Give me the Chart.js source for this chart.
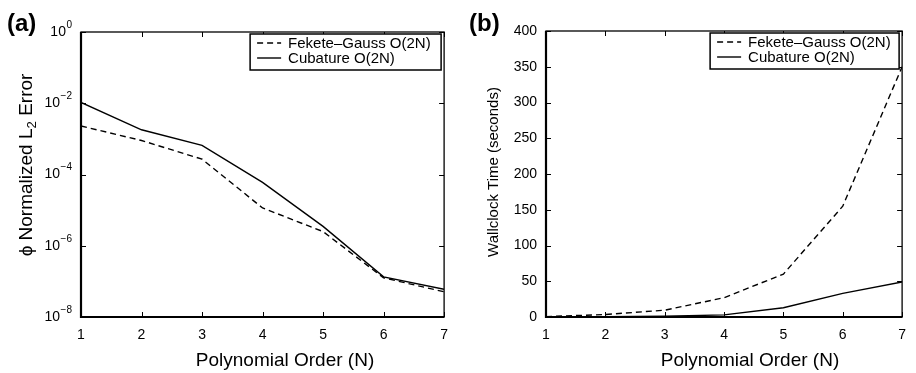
<!DOCTYPE html>
<html>
<head>
<meta charset="utf-8">
<script src="https://cdn.jsdelivr.net/npm/chart.js@4.4.0/dist/chart.umd.min.js"></script>
<style>
  body { margin: 0; background: #fff; }
  canvas { position: absolute; top: 0; }
  #errChart { left: 0; }
  #timeChart { left: 458px; }
</style>
</head>
<body>
<canvas id="errChart" width="458" height="373"></canvas>
<canvas id="timeChart" width="458" height="373"></canvas>
<script>
const FONT = '"Liberation Sans", Arial, Helvetica, sans-serif';

// polynomial order N
const orders = [1, 2, 3, 4, 5, 6, 7];

// (a) normalized L2 error
const feketeError = [2.3e-3, 9e-4, 2.7e-4, 1.15e-5, 2.5e-6, 1.26e-7, 5.1e-8];
const cubatureError = [1.05e-2, 1.8e-3, 6.6e-4, 6e-5, 3.5e-6, 1.34e-7, 6e-8];
const errorExponents = [0, -2, -4, -6, -8];

// (b) wallclock time in seconds
const feketeTime = [0.5, 3.5, 9.5, 27, 60, 155, 350];
const cubatureTime = [0.1, 0.3, 1, 3, 13, 33, 49];
const timeTicks = [0, 50, 100, 150, 200, 250, 300, 350, 400];

const seriesNames = ['Fekete\u2013Gauss O(2N)', 'Cubature O(2N)'];

function toPoints(values) {
  return orders.map((n, i) => ({ x: n, y: values[i] }));
}

function makeDatasets(fekete, cubature) {
  return [
    { label: seriesNames[0], data: toPoints(fekete), borderColor: '#000', borderWidth: 1.4, borderDash: [6, 4], pointRadius: 0, fill: false, tension: 0 },
    { label: seriesNames[1], data: toPoints(cubature), borderColor: '#000', borderWidth: 1.4, pointRadius: 0, fill: false, tension: 0 }
  ];
}

// frame, inward ticks, legend box and titles
function decor(cfg) {
  return {
    id: 'decor',
    afterDraw(chart) {
      const ctx = chart.ctx;
      const a = chart.chartArea;
      const xs = chart.scales.x;
      const ys = chart.scales.y;
      ctx.save();
      ctx.strokeStyle = '#000';

      // inward ticks on all four sides
      ctx.lineWidth = 1;
      ctx.beginPath();
      orders.forEach(n => {
        const px = Math.round(xs.getPixelForValue(n)) + 0.5;
        ctx.moveTo(px, a.bottom); ctx.lineTo(px, a.bottom - 5);
        ctx.moveTo(px, a.top); ctx.lineTo(px, a.top + 5);
      });
      cfg.yValues.forEach(v => {
        const py = Math.round(ys.getPixelForValue(v)) + 0.5;
        ctx.moveTo(a.left, py); ctx.lineTo(a.left + 5, py);
        ctx.moveTo(a.right, py); ctx.lineTo(a.right - 5, py);
      });
      ctx.stroke();

      // box
      ctx.lineWidth = 1.3;
      ctx.strokeRect(a.left, a.top, a.right - a.left, a.bottom - a.top);
      ctx.lineWidth = 2.2;
      ctx.beginPath();
      ctx.moveTo(a.left, a.top); ctx.lineTo(a.left, a.bottom); ctx.lineTo(a.right, a.bottom);
      ctx.stroke();

      // log tick labels with superscripts
      if (cfg.logLabels) {
        errorExponents.forEach(e => {
          const py = ys.getPixelForValue(Math.pow(10, e));
          const exp = e === 0 ? '0' : '\u2212' + Math.abs(e);
          ctx.fillStyle = '#000';
          ctx.textBaseline = 'middle';
          ctx.textAlign = 'right';
          ctx.font = '10px ' + FONT;
          const right = a.left - 9;
          const w = ctx.measureText(exp).width;
          ctx.fillText(exp, right, py - 7);
          ctx.font = '14px ' + FONT;
          ctx.fillText('10', right - w - 0.5, py);
        });
      }

      // legend
      const lx = a.right - 3 - cfg.legendWidth, ly = a.top + 2;
      ctx.fillStyle = '#fff';
      ctx.fillRect(lx, ly, cfg.legendWidth, 36);
      ctx.lineWidth = 1.5;
      ctx.strokeRect(lx, ly, cfg.legendWidth, 36);
      chart.data.datasets.forEach((ds, i) => {
        const rowY = ly + 9 + i * 15;
        ctx.lineWidth = 1.4;
        ctx.setLineDash(ds.borderDash || []);
        ctx.beginPath();
        ctx.moveTo(lx + 7, rowY); ctx.lineTo(lx + 31, rowY);
        ctx.stroke();
        ctx.setLineDash([]);
        ctx.fillStyle = '#000';
        ctx.font = '15px ' + FONT;
        ctx.textAlign = 'left';
        ctx.textBaseline = 'middle';
        ctx.fillText(ds.label, lx + 38, rowY + 0.5);
      });

      // panel label
      ctx.fillStyle = '#000';
      ctx.font = 'bold 24px ' + FONT;
      ctx.textAlign = 'left';
      ctx.textBaseline = 'middle';
      ctx.fillText(cfg.panel, cfg.panelX, 24);

      // x title
      ctx.font = '19px ' + FONT;
      ctx.textAlign = 'center';
      ctx.fillText('Polynomial Order (N)', cfg.xTitleX, 361);

      // y title
      ctx.save();
      ctx.translate(cfg.yTitleX, cfg.yTitleY);
      ctx.rotate(-Math.PI / 2);
      ctx.textBaseline = 'middle';
      ctx.textAlign = 'left';
      ctx.font = cfg.yTitleFont + 'px ' + FONT;
      let total = 0;
      cfg.yTitle.forEach(p => {
        ctx.font = (p.sub ? cfg.yTitleFont * 0.7 : cfg.yTitleFont) + 'px ' + FONT;
        total += ctx.measureText(p.text).width;
      });
      let cx = -total / 2;
      cfg.yTitle.forEach(p => {
        ctx.font = (p.sub ? cfg.yTitleFont * 0.7 : cfg.yTitleFont) + 'px ' + FONT;
        ctx.fillText(p.text, cx, p.sub ? 5 : 0);
        cx += ctx.measureText(p.text).width;
      });
      ctx.restore();

      ctx.restore();
    }
  };
}

function xAxis() {
  return {
    type: 'linear', min: 1, max: 7,
    grid: { display: false, drawTicks: false },
    border: { display: false },
    ticks: { stepSize: 1, padding: 10, color: '#000', font: { family: FONT, size: 14 } },
    afterFit(scale) { scale.height = 56; }
  };
}

new Chart(document.getElementById('errChart'), {
  type: 'line',
  data: { datasets: makeDatasets(feketeError, cubatureError) },
  options: {
    responsive: false, animation: false, devicePixelRatio: 1,
    layout: { padding: { top: 32, right: 12, left: 0, bottom: 0 } },
    plugins: { legend: { display: false }, tooltip: { enabled: false } },
    scales: {
      x: xAxis(),
      y: {
        type: 'logarithmic', min: 1e-8, max: 1,
        grid: { display: false, drawTicks: false },
        border: { display: false },
        ticks: { display: false },
        afterBuildTicks(scale) { scale.ticks = errorExponents.map(e => ({ value: Math.pow(10, e) })); },
        afterFit(scale) { scale.width = 81; }
      }
    }
  },
  plugins: [decor({
    yValues: errorExponents.map(e => Math.pow(10, e)),
    logLabels: true, legendWidth: 191,
    panel: '(a)', panelX: 7, xTitleX: 285,
    yTitleX: 27, yTitleY: 165, yTitleFont: 19,
    yTitle: [{ text: '\u03D5 Normalized L' }, { text: '2', sub: true }, { text: ' Error' }]
  })]
});

new Chart(document.getElementById('timeChart'), {
  type: 'line',
  data: { datasets: makeDatasets(feketeTime, cubatureTime) },
  options: {
    responsive: false, animation: false, devicePixelRatio: 1,
    layout: { padding: { top: 31, right: 6, left: 0, bottom: 0 } },
    plugins: { legend: { display: false }, tooltip: { enabled: false } },
    scales: {
      x: xAxis(),
      y: {
        type: 'linear', min: 0, max: 400,
        grid: { display: false, drawTicks: false },
        border: { display: false },
        ticks: { stepSize: 50, padding: 9, color: '#000', font: { family: FONT, size: 14 } },
        afterBuildTicks(scale) { scale.ticks = timeTicks.map(v => ({ value: v })); },
        afterFit(scale) { scale.width = 88; }
      }
    }
  },
  plugins: [decor({
    yValues: timeTicks,
    logLabels: false, legendWidth: 189,
    panel: '(b)', panelX: 11, xTitleX: 292,
    yTitleX: 36, yTitleY: 172, yTitleFont: 15,
    yTitle: [{ text: 'Wallclock Time (seconds)' }]
  })]
});
</script>
</body>
</html>
